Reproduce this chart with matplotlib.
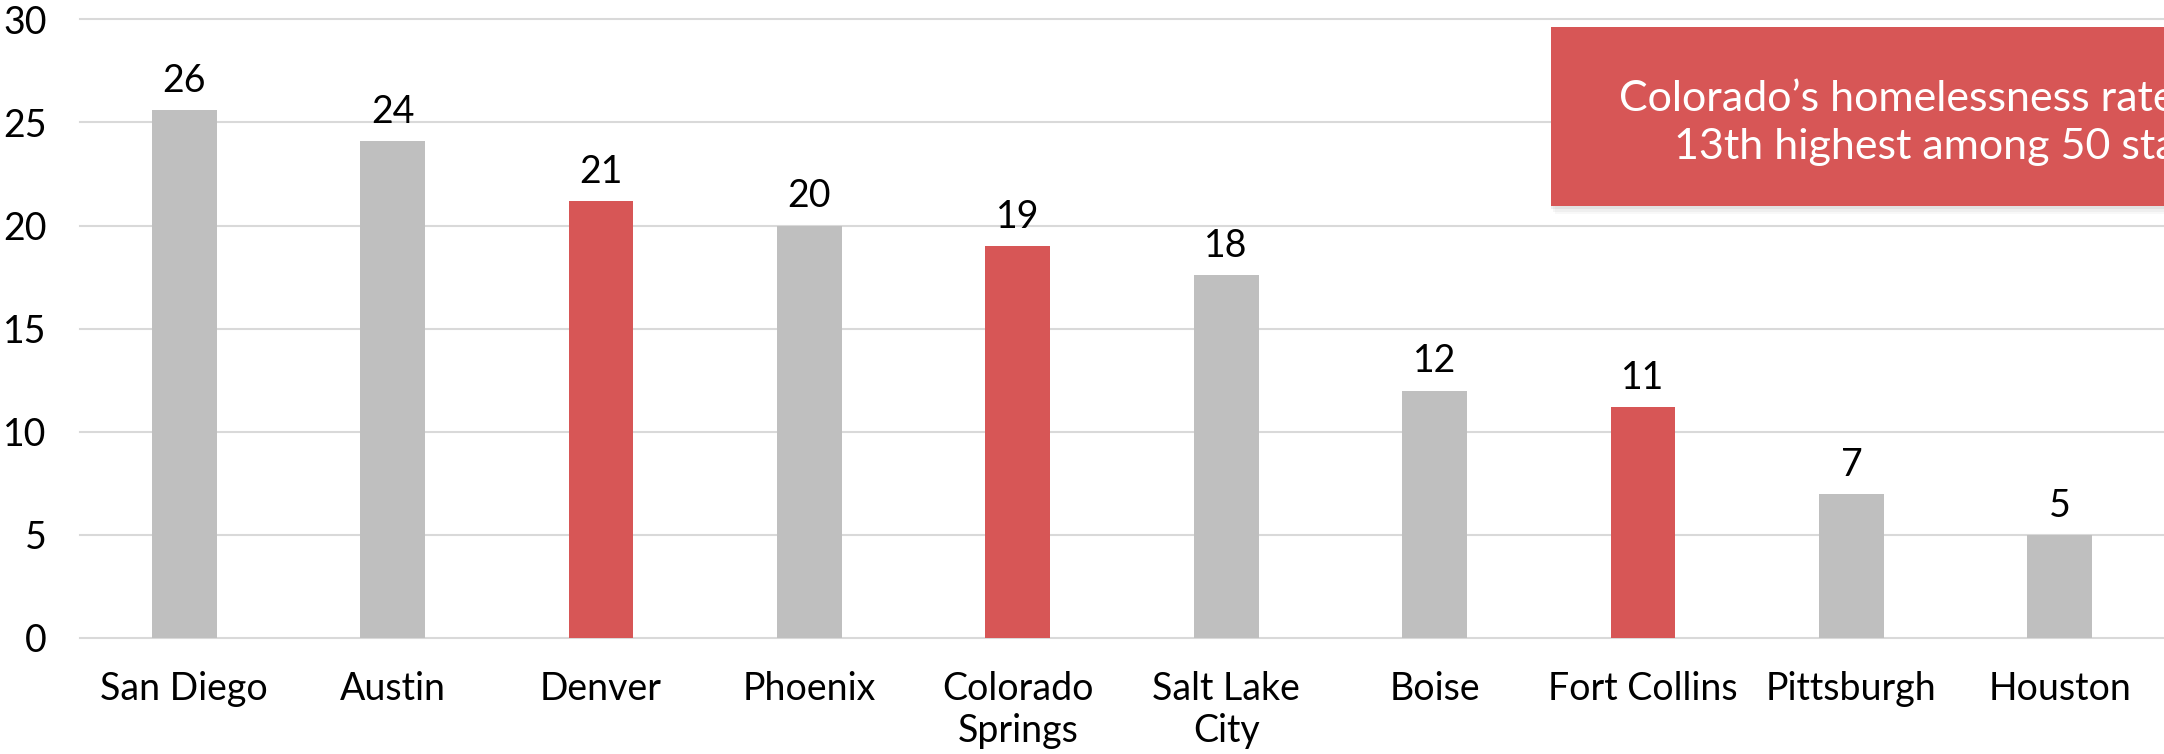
import matplotlib
matplotlib.use("Agg")
import matplotlib.pyplot as plt
from matplotlib.patches import Rectangle

plt.rcParams['font.family'] = ['Lato', 'DejaVu Sans']

# homelessness rate per 10,000 people
cities = ['San Diego', 'Austin', 'Denver', 'Phoenix', 'Colorado\nSprings',
          'Salt Lake\nCity', 'Boise', 'Fort Collins', 'Pittsburgh', 'Houston']
rates = [25.6, 24.1, 21.2, 20.0, 19.0, 17.6, 12.0, 11.2, 7.0, 5.0]
colorado = [False, False, True, False, True, False, False, True, False, False]
yticks = [0, 5, 10, 15, 20, 25, 30]

GRAY = '#BFBFBF'
RED = '#D75656'

fig = plt.figure(figsize=(21.64, 7.54), dpi=100)
ax = fig.add_axes([80 / 2164, 116 / 754, 2084 / 2164, 618.7 / 754])

x = list(range(len(cities)))
colors = [RED if c else GRAY for c in colorado]
ax.bar(x, rates, width=0.31, color=colors, zorder=3)

for i, v in enumerate(rates):
    ax.annotate(str(round(v)), (i, v), xytext=(0, 13), textcoords='offset points',
                ha='center', va='baseline', fontsize=27, color='black')

ax.set_xlim(-0.5, 9.5)
ax.set_ylim(0, 30)
ax.set_yticks(yticks)
ax.set_xticks(x)
ax.set_xticklabels(cities)
ax.yaxis.grid(True, color='#D9D9D9', linewidth=1.5, zorder=0)
for gl in ax.yaxis.get_gridlines():
    gl.set_clip_on(False)
ax.set_axisbelow(True)
for s in ax.spines.values():
    s.set_visible(False)
ax.tick_params(axis='both', length=0, labelsize=27, pad=24)

# callout box (runs off the right edge, like the original)
for k, a in enumerate([0.12, 0.08, 0.05]):
    sh = Rectangle((0.706 + 0.001 * k, 0.699 - 0.006 - 0.004 * k), 0.6, 0.288,
                   transform=ax.transAxes, facecolor='#888888', alpha=a,
                   edgecolor='none', clip_on=False, zorder=4)
    ax.add_patch(sh)
box = Rectangle((0.706, 0.699), 0.6, 0.288, transform=ax.transAxes,
                facecolor=RED, edgecolor='none', clip_on=False, zorder=5)
ax.add_patch(box)
ax.text(0.899, 0.832, 'Colorado\u2019s homelessness rate is the\n13th highest among 50 states',
        transform=ax.transAxes, ha='center', va='center', fontsize=31,
        color='white', linespacing=1.32, zorder=6, clip_on=False)

fig.savefig('out.png', dpi=100)
